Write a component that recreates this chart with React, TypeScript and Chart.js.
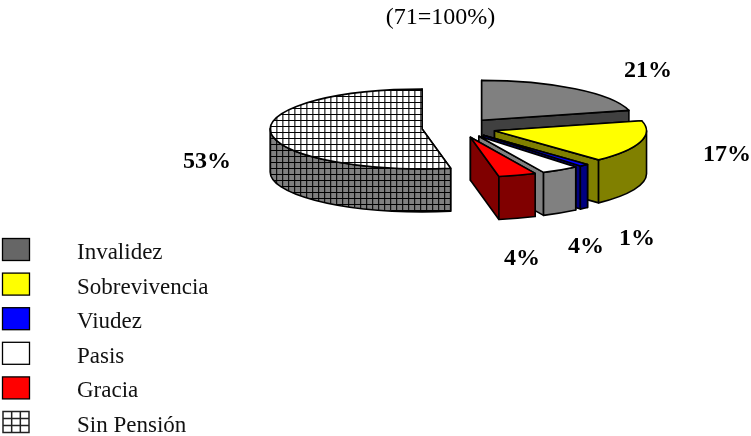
import React, { useEffect, useRef } from "react";
import { Chart, registerables } from "chart.js";

Chart.register(...registerables);

// Pension type shares out of 71 cases.
const categories = ["Invalidez", "Sobrevivencia", "Viudez", "Pasis", "Gracia", "Sin Pensión"];
const shares = [21, 17, 1, 4, 4, 53];
const topColors = ["#808080", "#ffff00", "#0000ff", "#ffffff", "#ff0000", "grid-light"];
const sideColors = ["#404040", "#808000", "#000080", "#808080", "#800000", "grid-dark"];
const swatchColors = ["#666666", "#ffff00", "#0000ff", "#ffffff", "#ff0000", "grid-swatch"];
const subtitle = "(71=100%)";

const SQUASH = 0.263;
const DEPTH = 43;
const RADIUS = 152;
const EXPLODE = 37;
const FONT = '"Liberation Serif", serif';
const valueAnchors: [number, number][] = [
  [648, 77], [727, 161], [637, 245], [586, 253], [522, 265], [207, 168],
];

function gridPattern(ctx: CanvasRenderingContext2D, bg: string, vertical: string, verticalSoft: string) {
  const cell = 6;
  const tile = document.createElement("canvas");
  tile.width = cell;
  tile.height = cell;
  const t = tile.getContext("2d")!;
  t.fillStyle = bg;
  t.fillRect(0, 0, cell, cell);
  t.fillStyle = vertical;
  t.fillRect(0, 0, 1, cell);
  t.fillStyle = verticalSoft;
  t.fillRect(1, 0, 1, cell);
  t.fillStyle = "#000";
  t.fillRect(0, 0, cell, 1);
  return ctx.createPattern(tile, "repeat")!;
}

// Extrudes the library's arc elements into a tilted, exploded pie.
const tiltedPie = {
  id: "tiltedPie",
  beforeDatasetDraw(chart: any) {
    const ctx: CanvasRenderingContext2D = chart.ctx;
    const meta = chart.getDatasetMeta(0);
    const resolve = (c: string) =>
      c === "grid-light" ? gridPattern(ctx, "#ffffff", "#555", "#999")
      : c === "grid-dark" ? gridPattern(ctx, "#808080", "#111", "#666")
      : c;

    const slices = meta.data.map((arc: any, i: number) => {
      const mid = (arc.startAngle + arc.endAngle) / 2;
      const ox = arc.x + Math.cos(mid) * EXPLODE;
      const oy = arc.y + Math.sin(mid) * EXPLODE * SQUASH;
      return { arc, i, ox, oy };
    });
    slices.sort((a: any, b: any) => a.oy - b.oy);

    ctx.save();
    ctx.strokeStyle = "#000";
    ctx.lineWidth = 1.6;
    ctx.lineJoin = "round";
    for (const { arc, i, ox, oy } of slices) {
      const r = arc.outerRadius;
      const px = (a: number) => ox + r * Math.cos(a);
      const py = (a: number) => oy + r * SQUASH * Math.sin(a);
      const top = resolve(topColors[i]);
      const side = resolve(sideColors[i]);
      ctx.fillStyle = side;

      // Straight cut faces.
      for (const a of [arc.startAngle, arc.endAngle]) {
        ctx.beginPath();
        ctx.moveTo(ox, oy);
        ctx.lineTo(px(a), py(a));
        ctx.lineTo(px(a), py(a) + DEPTH);
        ctx.lineTo(ox, oy + DEPTH);
        ctx.closePath();
        ctx.fill();
        ctx.stroke();
      }

      // Curved outer wall: only the part facing the viewer.
      const from = Math.max(arc.startAngle, 0);
      const to = Math.min(arc.endAngle, Math.PI);
      if (to > from) {
        ctx.beginPath();
        ctx.ellipse(ox, oy, r, r * SQUASH, 0, from, to);
        ctx.lineTo(px(to), py(to) + DEPTH);
        ctx.ellipse(ox, oy + DEPTH, r, r * SQUASH, 0, to, from, true);
        ctx.closePath();
        ctx.fill();
        ctx.stroke();
      }

      // Top face.
      ctx.fillStyle = top;
      ctx.beginPath();
      ctx.moveTo(ox, oy);
      ctx.ellipse(ox, oy, r, r * SQUASH, 0, arc.startAngle, arc.endAngle);
      ctx.closePath();
      ctx.fill();
      ctx.stroke();
    }
    ctx.restore();
    return false;
  },
  afterDraw(chart: any) {
    const ctx: CanvasRenderingContext2D = chart.ctx;
    ctx.save();
    ctx.textBaseline = "alphabetic";

    ctx.fillStyle = "#000";
    ctx.textAlign = "center";
    ctx.font = `24px ${FONT}`;
    ctx.fillText(subtitle, 440.5, 24);

    ctx.font = `bold 24px ${FONT}`;
    shares.forEach((v, i) => {
      const [x, y] = valueAnchors[i];
      ctx.fillText(`${v}%`, x, y);
    });

    ctx.textAlign = "left";
    categories.forEach((name, i) => {
      const y = 238 + i * 34.6;
      const swatch = swatchColors[i];
      ctx.strokeStyle = "#000";
      if (swatch === "grid-swatch") {
        ctx.lineWidth = 1.5;
        ctx.strokeStyle = "#222";
        ctx.strokeRect(3, y + 0.5, 26, 21);
        ctx.beginPath();
        for (const f of [1 / 3, 2 / 3]) {
          ctx.moveTo(3 + 26 * f, y + 0.5);
          ctx.lineTo(3 + 26 * f, y + 21.5);
          ctx.moveTo(3, y + 0.5 + 21 * f);
          ctx.lineTo(29, y + 0.5 + 21 * f);
        }
        ctx.stroke();
      } else {
        ctx.lineWidth = 1.3;
        ctx.fillStyle = swatch;
        ctx.fillRect(2.5, y + 0.5, 27, 22);
        ctx.strokeRect(2.5, y + 0.5, 27, 22);
      }
      ctx.fillStyle = "#111";
      ctx.font = `23px ${FONT}`;
      ctx.fillText(name, 77, y + 21);
    });
    ctx.restore();
  },
};

export default function App() {
  const ref = useRef<HTMLCanvasElement>(null);
  useEffect(() => {
    document.body.style.margin = "0";
    const chart = new Chart(ref.current!, {
      type: "pie",
      data: {
        labels: categories,
        datasets: [{ data: shares, offset: EXPLODE, radius: RADIUS, borderWidth: 0 } as any],
      },
      options: {
        animation: false,
        responsive: false,
        layout: { padding: { left: 167, right: 0, top: 0, bottom: 180 } },
        plugins: { legend: { display: false }, tooltip: { enabled: false } },
      },
      plugins: [tiltedPie],
    });
    return () => chart.destroy();
  }, []);
  return <canvas ref={ref} width={751} height={436} style={{ display: "block" }} />;
}
